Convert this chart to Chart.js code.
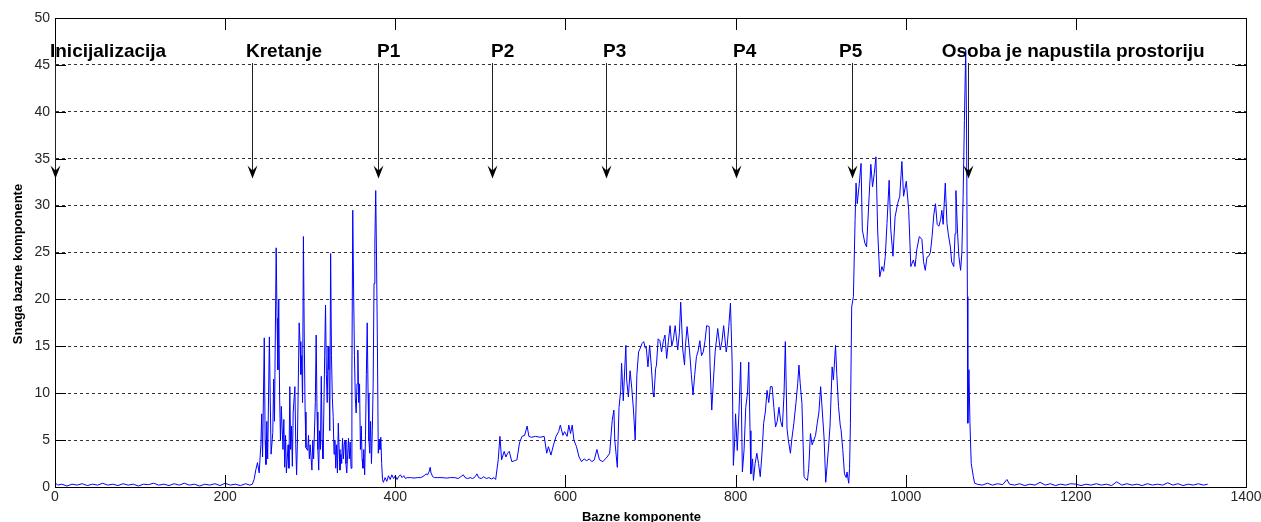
<!DOCTYPE html>
<html>
<head>
<meta charset="utf-8">
<title>Snaga bazne komponente</title>
<script src="https://cdn.jsdelivr.net/npm/chart.js@4/dist/chart.umd.min.js"></script>
<style>
  html, body { margin: 0; padding: 0; background: #fff; }
  #okvir { width: 1261px; height: 522px; position: relative; }
</style>
</head>
<body>
<div id="okvir"><canvas id="snagaChart"></canvas></div>
<script>
// x positions (Bazne komponente)
var bazneKomponente = [
  // mirovanje
  0,3,8,14,20,26,32,38,44,50,
  56,62,68,74,80,86,92,98,104,110,
  116,122,128,134,140,146,152,158,164,170,
  176,182,188,194,200,206,212,218,224,229,
  232,
  // kretanje
  234,236,238,240,242,243,244,246,247,248,
  249,250,252,253,254,256,257,258,260,261,
  262,263,264,265,266,268,269,270,271,272,
  274,275,276,277,278,279,280,282,283,284,
  285,287,288,289,290,291,292,293,294,295,
  297,298,299,300,302,303,304,306,307,308,
  309,310,311,312,313,314,315,316,317,318,
  319,320,321,322,323,324,325,326,327,328,
  329,330,331,332,333,334,335,336,337,338,
  339,340,341,342,343,344,345,346,347,348,
  349,350,351,352,353,354,355,356,357,358,
  359,360,361,362,363,364,365,366,367,368,
  369,370,371,372,373,374,375,376,377,378,
  379,380,381,382,383,384,385,
  // P1
  386,388,390,392,394,396,398,400,402,404,
  406,408,410,412,414,418,422,426,430,434,
  436,438,440,441,442,444,446,450,455,460,
  465,470,474,477,480,482,485,488,491,494,
  496,498,501,504,507,510,513,516,518,
  // P2
  521,523,525,528,530,532,534,537,540,543,
  546,549,552,555,557,560,565,570,575,578,
  580,583,586,589,592,594,597,599,602,604,
  606,608,610,613,616,619,622,625,628,631,
  634,637,640,644,647,649,652,655,657,658,
  661,
  // P3, P4
  663,665,666,668,671,672,674,676,678,680,
  682,684,686,688,690,692,694,695,697,699,
  701,703,704,706,707,709,711,713,715,717,
  719,721,723,725,727,729,732,734,735.5,738,
  740,741,743,746,748,750,752,754,756,758,
  760,762,764,766,769,770,772,774,776,779,
  782,784,786,789,790,792,794,796,797.4,799,
  800,802,804,806,807,808,810,812,814,815.5,
  817,818,820,821,823,825,827,829,831,833,
  835,837,839,841,843,845,847,849,851,853,
  855,857,858.5,860.5,862,864.5,866,868.5,871,873,
  874.5,876,878,880.5,882,884.5,886,888,890,892,
  894,896,898,900,902,904,906,
  // P5
  909.6,911,913.5,915,917.5,919,921,923,924,926,
  928,930,931,933,934,935,936.5,938.5,940.5,941.6,
  943,945.5,947.5,949,952,954,957,959,961,963,
  965,967,969.5,972,974,976,978,980.5,982.5,985,
  987.5,990.5,993,995.5,997.5,1000.7,1003.5,1006,1009,1011,
  1013,1016,1019,1021,1023,1025,1027,1029,1031,1033,
  1035,1037,1039,1041,1042.5,1044,1046.5,1048.5,1050,1052.5,
  1054,1056.5,1058,1059,1061,1062.5,1064.5,1066,1067.5,1069,
  1070.5,1071.5,1072.5,1073,1074.3,1075.5,1077,1079.5,1081,
  // prazna prostorija
  1084,1090,1096,1102,1108,1114,1119,1122,1128,1134,
  1140,1146,1152,1158,1164,1170,1176,1182,1188,1194,
  1200,1206,1212,1218,1224,1230,1236,1242,1248,1254,
  1260,1266,1272,1278,1284,1290,1296,1302,1308,1314,
  1320,1326,1332,1338,1344,1350,1355
];

// y values (Snaga bazne komponente), same order as above
var snaga = [
  0.5,0.2,0.3,0.1,0.3,0.2,0.35,0.15,0.3,0.2,
  0.4,0.2,0.3,0.15,0.35,0.2,0.3,0.1,0.3,0.25,
  0.4,0.2,0.3,0.15,0.35,0.2,0.4,0.2,0.3,0.1,
  0.3,0.2,0.35,0.15,0.4,0.2,0.3,0.15,0.35,0.2,
  0.3,

  0.8,1.8,2.6,1.5,4.5,7.8,3.2,15.9,5.0,2.4,
  7.0,3.0,16.0,9.5,3.5,5.8,11.5,7.0,25.5,18.0,
  12.5,20.0,9.8,5.0,8.6,4.0,7.2,2.1,5.5,1.5,
  4.5,2.0,10.7,4.0,6.5,2.2,8.0,10.7,4.5,1.3,
  5.0,17.5,15.5,12.0,14.0,9.0,26.7,16.0,8.0,4.2,
  3.9,5.5,3.0,4.5,1.8,5.0,3.0,9.0,16.2,8.0,
  4.0,1.8,6.0,4.0,11.8,5.0,3.0,8.0,14.0,19.4,
  12.0,9.0,15.0,12.5,6.0,24.9,14.0,9.5,7.5,3.5,
  5.0,2.0,4.5,1.5,6.8,4.0,1.8,3.5,2.5,5.2,
  3.0,4.5,5.0,2.5,1.5,3.5,5.2,3.0,4.8,2.0,
  12.0,29.5,21.0,14.0,9.5,7.9,11.0,14.6,9.0,11.0,
  4.0,6.5,3.0,2.0,4.0,1.3,5.5,12.0,17.5,10.0,
  5.0,3.6,7.0,2.5,6.0,11.0,21.7,26.0,31.6,24.0,
  15.0,3.6,5.1,4.0,5.3,2.5,0.8,

  0.5,1.0,0.6,1.2,0.8,1.3,0.9,1.2,0.8,1.1,
  1.3,1.0,1.2,0.9,1.0,1.0,0.95,1.0,1.0,1.2,
  1.4,1.3,1.7,2.1,1.5,1.1,1.0,1.0,1.0,0.95,
  1.0,1.0,0.9,1.1,1.3,1.0,0.9,1.0,0.9,1.1,
  1.4,1.0,0.9,1.1,0.9,1.0,0.85,1.0,0.8,

  2.9,5.4,2.9,3.8,3.2,3.6,3.8,2.7,2.8,2.9,
  4.7,5.4,5.5,6.5,5.4,5.3,5.4,5.3,5.4,3.6,
  4.3,3.4,4.5,5.4,5.9,6.6,5.5,5.9,5.4,6.6,
  5.7,6.6,5.0,4.3,3.2,2.7,3.0,2.8,3.0,2.7,
  2.9,4.0,2.9,2.7,3.0,3.2,3.6,7.1,8.2,5.0,
  2.1,

  8.5,10.3,13.2,9.2,15.1,11.4,9.6,12.4,10.5,8.2,
  5.0,12.0,14.4,14.8,15.3,15.5,14.8,14.9,12.8,15.1,
  12.8,10.0,9.6,12.6,13.0,15.8,15.6,14.4,15.5,16.2,
  13.7,15.5,17.2,15.0,15.8,17.2,14.6,16.5,19.7,14.6,
  13.0,15.0,17.1,14.4,12.0,9.8,12.0,13.9,14.5,15.6,
  14.0,14.4,15.5,17.2,17.1,13.0,8.2,11.4,14.4,16.9,
  14.6,15.5,17.2,14.4,15.0,17.1,19.6,13.2,2.3,5.0,
  7.8,3.9,8.0,13.3,8.0,1.6,4.0,8.5,10.0,13.3,
  6.0,1.4,3.0,0.7,2.5,3.6,2.5,1.1,3.5,6.8,
  8.0,10.3,9.0,10.7,10.7,8.5,6.4,7.0,8.5,7.0,
  6.4,10.0,15.5,6.2,5.0,3.6,5.0,6.8,9.0,11.0,
  13.0,11.0,8.9,1.1,0.9,0.7,2.0,5.7,4.5,5.0,
  5.5,6.8,8.0,10.7,8.0,5.3,0.5,

  4.6,6.5,12.8,11.4,15.1,12.0,8.6,6.6,6.1,4.0,
  1.4,1.0,1.6,0.4,2.0,6.8,19.2,20.3,28.5,32.4,
  30.2,32.4,34.5,27.4,26.0,25.6,31.0,34.4,32.0,33.4,
  35.2,27.4,22.4,23.5,23.0,24.6,28.1,32.7,27.4,24.6,
  28.8,30.2,31.0,34.7,31.0,32.6,29.5,23.5,24.2,23.5,
  25.3,26.7,26.4,24.0,23.1,24.5,24.6,25.0,26.7,29.0,
  30.2,28.0,27.8,28.5,29.5,28.0,32.4,28.1,27.0,25.6,
  24.0,23.5,27.0,31.6,27.0,24.6,23.1,25.0,31.0,39.1,
  46.6,38.8,20.3,6.8,12.5,6.8,2.5,1.1,0.4,

  0.3,0.2,0.4,0.2,0.35,0.25,0.8,0.3,0.2,0.35,
  0.15,0.3,0.2,0.5,0.2,0.35,0.15,0.3,0.2,0.35,
  0.3,0.15,0.3,0.2,0.35,0.2,0.3,0.15,0.55,0.2,
  0.35,0.2,0.3,0.15,0.35,0.2,0.3,0.2,0.45,0.2,
  0.35,0.15,0.3,0.2,0.35,0.2,0.3
];

// annotations (text + arrow), x in data units like the original text() calls
var oznake = ['Inicijalizacija', 'Kretanje', 'P1', 'P2', 'P3', 'P4', 'P5', 'Osoba je napustila prostoriju'];
var oznakeTekstX = [-5.9, 224.5, 378.5, 512.5, 644.2, 797, 921.6, 1042.3];
var oznakeStrelicaX = [0.5, 231.2, 380, 513.7, 647.7, 800.5, 936.5, 1073.6];

if (bazneKomponente.length !== snaga.length) {
  console.warn('duzine se ne poklapaju', bazneKomponente.length, snaga.length);
}

var font = "'Liberation Sans', Arial, sans-serif";

// MATLAB style box, inward ticks, arrows, labels
var matlabOkvir = {
  id: 'matlabOkvir',
  afterDraw: function (chart) {
    var ctx = chart.ctx;
    var a = chart.chartArea;
    var x = chart.scales.x;
    var y = chart.scales.y;

    ctx.save();
    ctx.setLineDash([]);
    ctx.strokeStyle = '#000';
    ctx.lineWidth = 1;
    ctx.beginPath();
    x.ticks.forEach(function (t) {
      var px = Math.round(x.getPixelForValue(t.value)) + 0.5;
      ctx.moveTo(px, a.bottom); ctx.lineTo(px, a.bottom - 12);
      ctx.moveTo(px, a.top); ctx.lineTo(px, a.top + 12);
    });
    y.ticks.forEach(function (t) {
      var py = Math.round(y.getPixelForValue(t.value)) + 0.5;
      ctx.moveTo(a.left, py); ctx.lineTo(a.left + 11, py);
      ctx.moveTo(a.right, py); ctx.lineTo(a.right - 11, py);
    });
    ctx.stroke();
    ctx.strokeRect(Math.round(a.left) + 0.5, Math.round(a.top) + 0.5,
      Math.round(a.right - a.left), Math.round(a.bottom - a.top));

    // arrows
    var vrh = y.getPixelForValue(45.2);
    var siljak = y.getPixelForValue(32.9);
    oznakeStrelicaX.forEach(function (v) {
      var px = Math.round(x.getPixelForValue(v)) + 0.5;
      ctx.strokeStyle = '#222';
      ctx.beginPath();
      ctx.moveTo(px, vrh);
      ctx.lineTo(px, siljak - 6);
      ctx.stroke();
      ctx.fillStyle = '#000';
      ctx.beginPath();
      ctx.moveTo(px, siljak);
      ctx.lineTo(px - 5, siljak - 13);
      ctx.lineTo(px, siljak - 8);
      ctx.lineTo(px + 5, siljak - 13);
      ctx.closePath();
      ctx.fill();
    });

    // annotation text
    ctx.fillStyle = '#000';
    ctx.font = 'bold 19px ' + font;
    ctx.textAlign = 'left';
    ctx.textBaseline = 'alphabetic';
    var tekstY = y.getPixelForValue(45.85);
    oznake.forEach(function (t, i) {
      ctx.fillText(t, x.getPixelForValue(oznakeTekstX[i]), tekstY);
    });

    // axis titles
    ctx.font = 'bold 13px ' + font;
    ctx.textAlign = 'center';
    ctx.textBaseline = 'middle';
    ctx.fillText('Bazne komponente', (a.left + a.right) / 2 - 9, 517);
    ctx.translate(18, 264);
    ctx.rotate(-Math.PI / 2);
    ctx.fillText('Snaga bazne komponente', 0, 0);
    ctx.restore();
  }
};

var config = {
  type: 'line',
  data: {
    datasets: [{
      label: 'Snaga bazne komponente',
      data: bazneKomponente.map(function (v, i) { return { x: v, y: snaga[i] }; }),
      borderColor: '#0000ff',
      borderWidth: 1,
      pointRadius: 0,
      fill: false,
      tension: 0
    }]
  },
  options: {
    responsive: true,
    maintainAspectRatio: false,
    animation: false,
    layout: { padding: { top: 18, right: 15, left: 0, bottom: 0 } },
    plugins: {
      legend: { display: false },
      tooltip: { enabled: false }
    },
    scales: {
      x: {
        type: 'linear',
        min: 0,
        max: 1400,
        ticks: {
          stepSize: 200,
          color: '#262626',
          font: { family: font, size: 14 },
          padding: 2,
          maxRotation: 0,
          callback: function (v) { return String(v); }
        },
        grid: { display: false, drawTicks: false },
        border: { display: true, color: '#000' },
        afterFit: function (s) {
          s.height = 35;
          s.paddingLeft = 0;
          s.paddingRight = 0;
        }
      },
      y: {
        min: 0,
        max: 50,
        ticks: { stepSize: 5, color: '#262626', font: { family: font, size: 14 }, padding: 5 },
        grid: { color: '#333', lineWidth: 1, drawTicks: false },
        border: { display: true, color: '#000', dash: [3, 3] },
        afterFit: function (s) {
          s.width = 55;
          s.paddingTop = 0;
          s.paddingBottom = 0;
        }
      }
    }
  },
  plugins: [matlabOkvir]
};

var ctx = document.getElementById('snagaChart').getContext('2d');
window.snagaChart = new Chart(ctx, config);
</script>
</body>
</html>
